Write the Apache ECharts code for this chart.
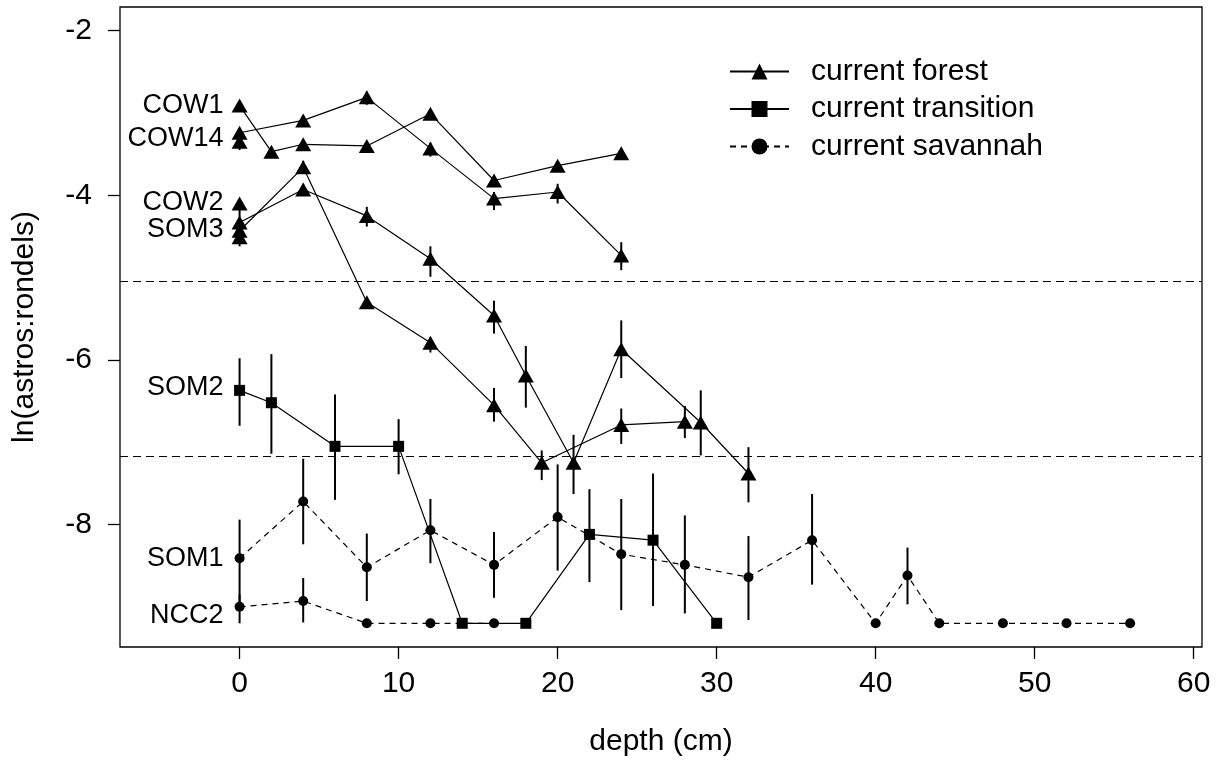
<!DOCTYPE html>
<html>
<head>
<meta charset="utf-8">
<script src="https://cdn.jsdelivr.net/npm/echarts@6/dist/echarts.min.js"></script>
<style>
    html, body { margin: 0; padding: 0; background: #fff; }
    #chart { width: 1219px; height: 763px; }
</style>
</head>
<body>
<div id="chart"></div>
<script>

// ---- data ----
// current forest (triangles), one array pair per core
var cow1_x = [0, 2, 4, 8, 12, 16, 20, 24];
var cow1_y = [-2.91, -3.47, -3.38, -3.40, -3.01, -3.82, -3.64, -3.49];
var cow14_x = [0, 4, 8, 12, 16, 20, 24];
var cow14_y = [-3.24, -3.09, -2.81, -3.43, -4.04, -3.96, -4.73];
var forest_a_x = [0, 4, 8, 12, 16, 19, 24, 28];
var forest_a_y = [-4.43, -3.66, -5.30, -5.79, -6.55, -7.25, -6.79, -6.75];
var forest_b_x = [0, 4, 8, 12, 16, 18, 21, 24, 29, 32];
var forest_b_y = [-4.33, -3.93, -4.25, -4.77, -5.46, -6.19, -7.25, -5.87, -6.76, -7.38];
// surface samples drawn without a line
var forest_pts_x = [0, 0, 0];
var forest_pts_y = [-3.35, -4.10, -4.51];
// error bars: [depth, upper, lower]
var forest_err = [
    [0, -3.20, -3.45], [0, -4.10, -4.62],
    [4, -3.03, -3.16], [4, -3.58, -3.72], [4, -3.86, -4.00],
    [8, -2.74, -2.90], [8, -3.37, -3.44], [8, -4.14, -4.38], [8, -5.24, -5.38],
    [12, -3.36, -3.53], [12, -4.62, -4.99], [12, -5.73, -5.91],
    [16, -3.78, -3.88], [16, -3.96, -4.18], [16, -5.28, -5.68], [16, -6.34, -6.75],
    [18, -5.83, -6.58], [19, -7.10, -7.46],
    [20, -3.86, -4.10], [21, -6.91, -7.63],
    [24, -4.57, -4.91], [24, -5.52, -6.22], [24, -6.59, -7.02],
    [28, -6.56, -6.95], [29, -6.37, -7.16], [32, -7.06, -7.73]
];

// current transition (squares)
var som2_x = [0, 2, 6, 10, 14, 18, 22, 26, 30];
var som2_y = [-6.37, -6.52, -7.05, -7.05, -9.2, -9.2, -8.12, -8.19, -9.2];
var transition_err = [
    [0, -5.98, -6.80], [2, -5.93, -7.14], [6, -6.42, -7.70],
    [10, -6.72, -7.39], [22, -7.57, -8.70], [26, -7.38, -8.99]
];

// current savannah (circles, dashed)
var som1_x = [0, 4, 8, 12, 16, 20, 24, 28, 32, 36, 40, 42, 44, 48, 52, 56];
var som1_y = [-8.41, -7.72, -8.52, -8.07, -8.49, -7.91, -8.36, -8.49, -8.64, -8.19, -9.2, -8.62, -9.2, -9.2, -9.2, -9.2];
var ncc2_x = [0, 4, 8, 12, 16];
var ncc2_y = [-9.0, -8.93, -9.2, -9.2, -9.2];
var savannah_err = [
    [0, -7.94, -8.95], [4, -7.20, -8.24], [8, -8.11, -8.93], [12, -7.69, -8.47],
    [16, -8.09, -8.89], [20, -7.27, -8.56], [24, -7.69, -9.04], [28, -7.89, -9.08],
    [32, -8.14, -9.16], [36, -7.63, -8.73], [42, -8.28, -8.97],
    [0, -8.85, -9.2], [4, -8.65, -9.19]
];

// core labels at depth 0
var core_names = ['COW1', 'COW14', 'COW2', 'SOM3', 'SOM2', 'SOM1', 'NCC2'];
var core_label_y = [-2.91, -3.31, -4.09, -4.41, -6.33, -8.41, -9.10];

// horizontal reference lines
var ref_lines = [-5.05, -7.17];

var x_ticks = [0, 10, 20, 30, 40, 50, 60];
var y_ticks = [-8, -6, -4, -2];

var legend_names = ['current forest', 'current transition', 'current savannah'];

// ---- helpers ----
function pairs(xs, ys) {
    return xs.map(function (x, i) { return [x, ys[i]]; });
}

function line_series(name, xs, ys, symbol, size, dashed) {
    return {
        name: name,
        type: 'line',
        data: pairs(xs, ys),
        symbol: symbol,
        symbolSize: size,
        showSymbol: true,
        itemStyle: { color: '#000', opacity: 1 },
        lineStyle: { color: '#000', width: 1.2, type: dashed ? [6, 5] : 'solid' },
        z: 3
    };
}

function err_series(data) {
    return {
        name: 'err',
        type: 'custom',
        data: data,
        encode: { x: 0, y: [1, 2] },
        renderItem: function (params, api) {
            var p1 = api.coord([api.value(0), api.value(1)]);
            var p2 = api.coord([api.value(0), api.value(2)]);
            return {
                type: 'line',
                shape: { x1: p1[0], y1: p1[1], x2: p2[0], y2: p2[1] },
                style: { stroke: '#000', lineWidth: 2 }
            };
        },
        z: 2
    };
}

var FONT = 'Liberation Sans, Arial, sans-serif';

var series = [
    line_series('current forest', cow1_x, cow1_y, 'triangle', [16, 14], false),
    line_series('current forest', cow14_x, cow14_y, 'triangle', [16, 14], false),
    line_series('current forest', forest_a_x, forest_a_y, 'triangle', [16, 14], false),
    line_series('current forest', forest_b_x, forest_b_y, 'triangle', [16, 14], false),
    {
        name: 'current forest',
        type: 'scatter',
        data: pairs(forest_pts_x, forest_pts_y),
        symbol: 'triangle',
        symbolSize: [16, 14],
        itemStyle: { color: '#000', opacity: 1 },
        z: 3
    },
    line_series('current transition', som2_x, som2_y, 'rect', 11, false),
    line_series('current savannah', som1_x, som1_y, 'circle', 10, true),
    line_series('current savannah', ncc2_x, ncc2_y, 'circle', 10, true),
    err_series(forest_err),
    err_series(transition_err),
    err_series(savannah_err),
    {
        name: 'labels',
        type: 'scatter',
        symbolSize: 0,
        itemStyle: { opacity: 1 },
        data: core_label_y.map(function (y, i) { return { value: [0, y], name: core_names[i] }; }),
        label: {
            show: true,
            position: 'left',
            distance: 16,
            formatter: '{b}',
            color: '#000',
            fontSize: 27,
            fontFamily: FONT
        },
        markLine: {
            silent: true,
            symbol: ['none', 'none'],
            label: { show: false },
            lineStyle: { color: '#000', width: 1.2, type: [8, 5], opacity: 1 },
            data: ref_lines.map(function (v) { return { yAxis: v }; })
        }
    }
];

var options = {
    animation: false,
    backgroundColor: '#fff',
    textStyle: { fontFamily: FONT },
    grid: {
        left: 120,
        right: 17,
        top: 7,
        bottom: 116,
        show: true,
        borderColor: '#000',
        borderWidth: 1.3,
        backgroundColor: 'transparent'
    },
    legend: {
        data: legend_names,
        orient: 'vertical',
        left: 724,
        top: 51,
        itemWidth: 59,
        itemHeight: 20,
        itemGap: 6.5,
        textStyle: {
            fontSize: 30,
            lineHeight: 31,
            color: '#000',
            fontFamily: FONT,
            padding: [0, 0, 0, 17]
        }
    },
    xAxis: {
        type: 'value',
        min: -7.52,
        max: 60.52,
        name: 'depth (cm)',
        nameLocation: 'middle',
        nameGap: 80,
        nameTextStyle: { fontSize: 30, color: '#000', fontFamily: FONT },
        axisLine: { show: false, onZero: false },
        splitLine: { show: false },
        axisTick: {
            show: true,
            length: 12,
            lineStyle: { color: '#000', width: 1.3 },
            customValues: x_ticks
        },
        axisLabel: {
            fontSize: 30,
            color: '#000',
            margin: 22,
            fontFamily: FONT,
            customValues: x_ticks
        }
    },
    yAxis: {
        type: 'value',
        min: -9.488,
        max: -1.712,
        name: 'ln(astros:rondels)',
        nameLocation: 'middle',
        nameGap: 80,
        nameTextStyle: { fontSize: 30, color: '#000', fontFamily: FONT },
        axisLine: { show: false, onZero: false },
        splitLine: { show: false },
        axisTick: {
            show: true,
            length: 12,
            lineStyle: { color: '#000', width: 1.3 },
            customValues: y_ticks
        },
        axisLabel: {
            fontSize: 30,
            color: '#000',
            margin: 28,
            fontFamily: FONT,
            customValues: y_ticks
        }
    },
    series: series
};

echarts.init(document.getElementById('chart')).setOption(options);
</script>
</body>
</html>
